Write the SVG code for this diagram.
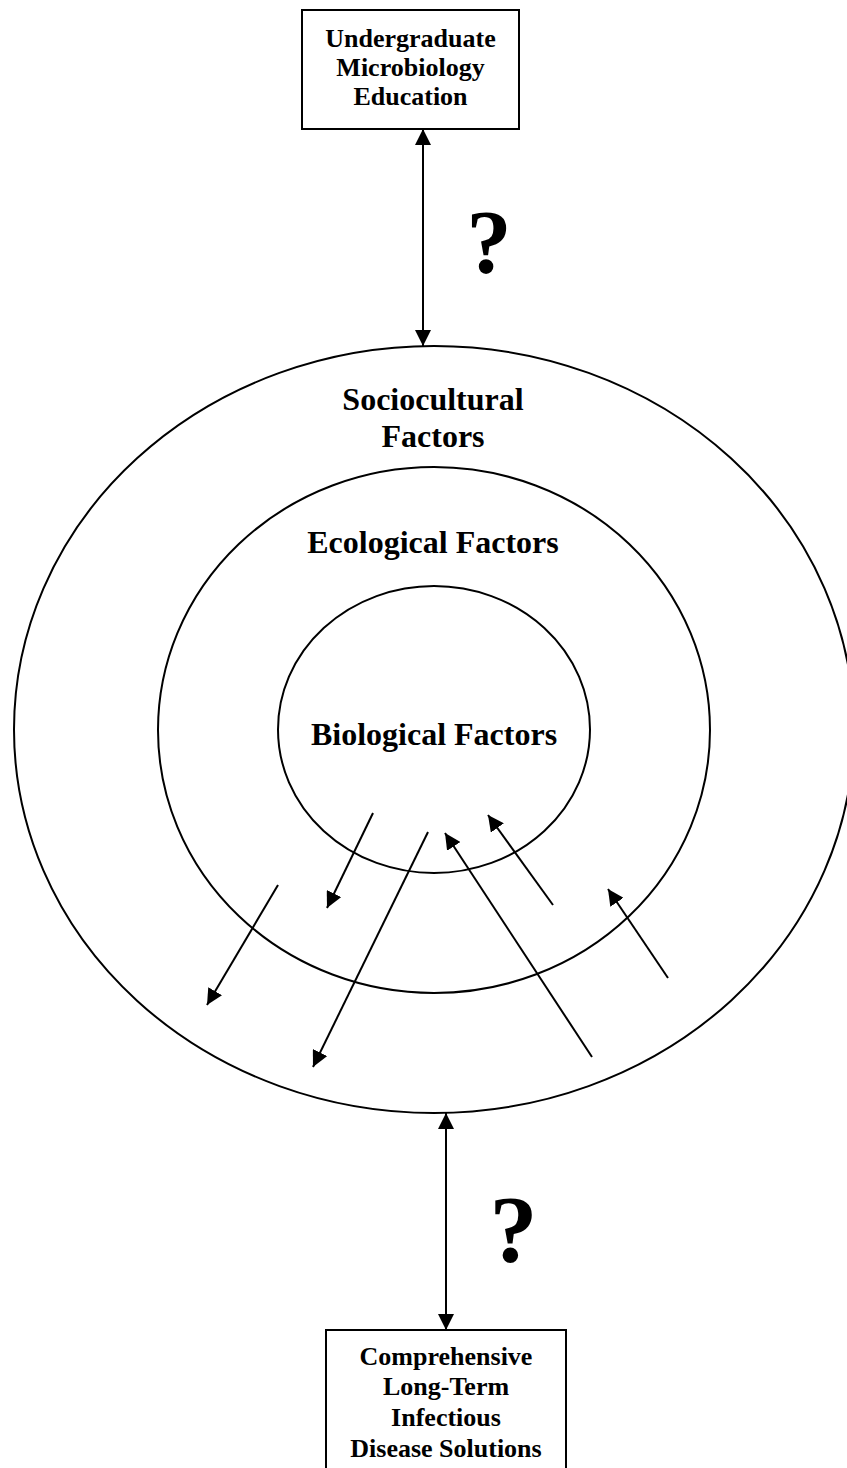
<svg xmlns="http://www.w3.org/2000/svg" width="847" height="1468" viewBox="0 0 847 1468">
<style>
.shape{fill:none;stroke:#000;stroke-width:2}
.box{fill:#fff;stroke:#000;stroke-width:2}
.t{font-family:"Liberation Serif","Times New Roman",serif;font-weight:bold;fill:#000;text-anchor:middle}
.bt{font-size:26px}
.lt{font-size:32px}
.q{font-size:90px}
.conn{stroke:#000;stroke-width:2;fill:none}
</style>
<defs>
<marker id="ah" markerUnits="userSpaceOnUse" markerWidth="16" markerHeight="16" viewBox="0 0 16 16" refX="16" refY="8" orient="auto-start-reverse">
<path d="M0,0 L16,8 L0,16 z" fill="#000"/>
</marker>
</defs>
<rect width="847" height="1468" fill="#fff"/>
<g id="sociocultural">
<ellipse class="shape" cx="434" cy="729.5" rx="420" ry="383.5"/>
<text class="t lt" x="433" y="410">Sociocultural</text>
<text class="t lt" x="433" y="447">Factors</text>
</g>
<g id="ecological">
<ellipse class="shape" cx="434" cy="730" rx="276" ry="263"/>
<text class="t lt" x="433" y="553">Ecological Factors</text>
</g>
<g id="biological">
<ellipse class="shape" cx="434" cy="729.5" rx="156" ry="143.5"/>
<text class="t lt" x="434" y="745">Biological Factors</text>
</g>
<g id="education">
<rect class="box" x="302" y="10" width="217" height="119"/>
<text class="t bt" x="410.5" y="47">Undergraduate</text>
<text class="t bt" x="410.5" y="76">Microbiology</text>
<text class="t bt" x="410.5" y="105">Education</text>
</g>
<g id="solutions">
<rect class="box" x="326" y="1330" width="240" height="145"/>
<text class="t bt" x="446" y="1365">Comprehensive</text>
<text class="t bt" x="446" y="1395">Long-Term</text>
<text class="t bt" x="446" y="1426">Infectious</text>
<text class="t bt" x="446" y="1457">Disease Solutions</text>
</g>
<g id="connectors">
<line class="conn" x1="423" y1="129" x2="423" y2="346" marker-start="url(#ah)" marker-end="url(#ah)"/>
<line class="conn" x1="446" y1="1113" x2="446" y2="1330" marker-start="url(#ah)" marker-end="url(#ah)"/>
<line class="conn" x1="373" y1="813" x2="327" y2="908" marker-end="url(#ah)"/>
<line class="conn" x1="278" y1="885" x2="207" y2="1005" marker-end="url(#ah)"/>
<line class="conn" x1="428" y1="832" x2="313" y2="1067" marker-end="url(#ah)"/>
<line class="conn" x1="592" y1="1057" x2="445" y2="833" marker-end="url(#ah)"/>
<line class="conn" x1="553" y1="905" x2="488" y2="815" marker-end="url(#ah)"/>
<line class="conn" x1="668" y1="978" x2="608" y2="889" marker-end="url(#ah)"/>
</g>
<g id="labels">
<text class="t q" x="489" y="273">?</text>
<text class="t q" x="513.5" y="1262" style="font-size:96px">?</text>
</g>
</svg>
